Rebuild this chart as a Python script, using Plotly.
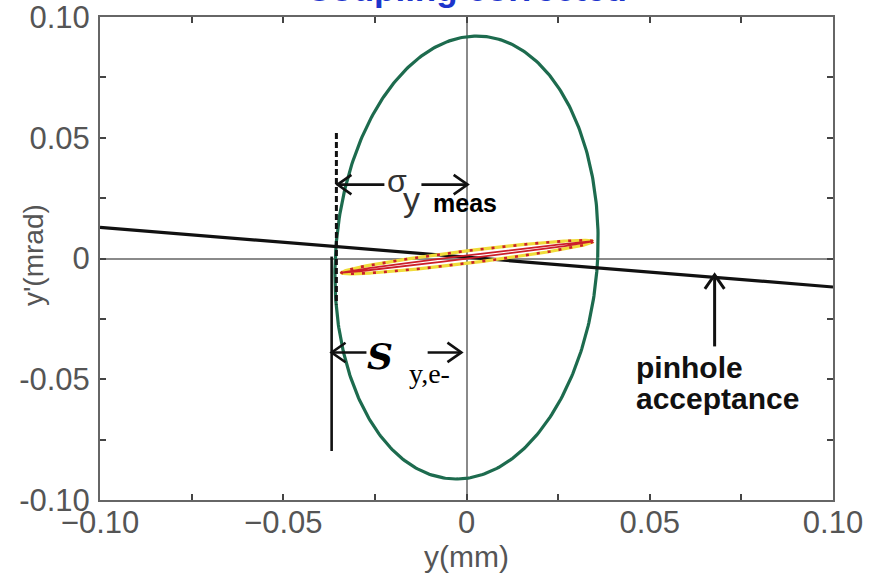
import numpy as np
import plotly.graph_objects as go

# ---- axis ticks -------------------------------------------------------------
x_tick_vals = [-0.10, -0.05, 0.0, 0.05, 0.10]
x_tick_text = ["\u22120.10", "\u22120.05", "0", "0.05", "0.10"]
y_tick_vals = [-0.10, -0.05, 0.0, 0.05, 0.10]
y_tick_text = ["-0.10", "-0.05", "0", "0.05", "0.10"]

# ---- phase-space ellipse (y, y') ------------------------------------------
ellipse_half_y = 0.0358      # mm
ellipse_half_yp = 0.0917     # mrad
ellipse_shear = 0.0028       # small tilt of the ellipse
ellipse_center = (0.0, 0.0004)

# ---- coupled beam ellipse (thin, tilted) ------------------------------------
beam_tip = (0.0343, 0.00645)          # tip relative to centre
beam_center = (0.0002, 0.0006)
beam_outer_width = 0.0026
beam_inner_width = 0.0007

# ---- pinhole acceptance line ------------------------------------------------
pinhole_y = [-0.10, 0.10]
pinhole_yp = [0.0129, -0.0118]

# ---- measured / electron beam size markers ----------------------------------
sigma_meas_x = -0.0355
sigma_meas_yp = [0.052, -0.019]
s_e_x = -0.0368
s_e_yp = [0.0008, -0.0797]

# arrow segments (left piece, right piece) around their labels
sigma_arrow_yp = 0.0306
sigma_arrow_segments = [(-0.0352, -0.0224), (-0.0123, 0.0003)]
s_arrow_yp = -0.0389
s_arrow_segments = [(-0.0368, -0.0273), (-0.0106, -0.0014)]

pinhole_arrow_x = 0.0677
pinhole_arrow_yp = (-0.0364, -0.0068)

# figure geometry (used to keep arrowheads visually isotropic)
W, H = 882, 581
M = dict(l=100, r=49, t=17, b=81)
X_RANGE = [-0.1, 0.1]
Y_RANGE = [-0.1, 0.1]
PLOT_W = W - M["l"] - M["r"]
PLOT_H = H - M["t"] - M["b"]
px_x = PLOT_W / (X_RANGE[1] - X_RANGE[0])
px_y = PLOT_H / (Y_RANGE[1] - Y_RANGE[0])


def arrow_head(tip, direction, length=17, half_angle=np.radians(35)):
    """Open V arrowhead at `tip`; `direction` points the arrow (px space, y up)."""
    d = np.array(direction, float)
    d /= np.linalg.norm(d)
    c, sn = np.cos(half_angle), np.sin(half_angle)
    w1 = -np.array([c * d[0] - sn * d[1], sn * d[0] + c * d[1]]) * length
    w2 = -np.array([c * d[0] + sn * d[1], -sn * d[0] + c * d[1]]) * length
    return ([tip[0] + w1[0] / px_x, tip[0], tip[0] + w2[0] / px_x],
            [tip[1] + w1[1] / px_y, tip[1], tip[1] + w2[1] / px_y])


fig = go.Figure()
INK = "#111111"
AXIS_GREY = "#555555"

# green phase-space ellipse
t = np.linspace(0, 2 * np.pi, 400)
ex = ellipse_center[0] + ellipse_half_y * np.cos(t) + ellipse_shear * np.sin(t)
ey = ellipse_center[1] + ellipse_half_yp * np.sin(t)
fig.add_trace(go.Scatter(x=ex, y=ey, mode="lines",
                         line=dict(color="#1d6b4e", width=3.2), hoverinfo="skip"))

# pinhole acceptance line
fig.add_trace(go.Scatter(x=pinhole_y, y=pinhole_yp, mode="lines",
                         line=dict(color=INK, width=3.2), hoverinfo="skip"))

# beam ellipse: yellow band with red dots, plus thin red inner ellipse
bx = beam_center[0] + beam_tip[0] * np.cos(t)
by_out = beam_center[1] + beam_tip[1] * np.cos(t) + beam_outer_width * np.sin(t)
by_in = beam_center[1] + beam_tip[1] * np.cos(t) + beam_inner_width * np.sin(t)
fig.add_trace(go.Scatter(x=bx, y=by_out, mode="lines",
                         line=dict(color="#f0dc3a", width=3.2), hoverinfo="skip"))
fig.add_trace(go.Scatter(x=bx, y=by_out, mode="lines",
                         line=dict(color="#c8202a", width=2.6, dash="3px,8px"), hoverinfo="skip"))
fig.add_trace(go.Scatter(x=bx, y=by_in, mode="lines",
                         line=dict(color="#cc1f2a", width=1.8), hoverinfo="skip"))

# dashed line: measured size
fig.add_trace(go.Scatter(x=[sigma_meas_x, sigma_meas_x], y=sigma_meas_yp, mode="lines",
                         line=dict(color=INK, width=3, dash="6px,3px"), hoverinfo="skip"))
# solid line: electron beam size
fig.add_trace(go.Scatter(x=[s_e_x, s_e_x], y=s_e_yp, mode="lines",
                         line=dict(color=INK, width=2.6), hoverinfo="skip"))


def double_arrow(yv, segs, width=2.6):
    (a0, a1), (b0, b1) = segs
    fig.add_trace(go.Scatter(x=[a0, a1, None, b0, b1], y=[yv, yv, None, yv, yv], mode="lines",
                             line=dict(color=INK, width=width), hoverinfo="skip"))
    for tip, d in (((a0, yv), (-1, 0)), ((b1, yv), (1, 0))):
        hx, hy = arrow_head(tip, d)
        fig.add_trace(go.Scatter(x=hx, y=hy, mode="lines",
                                 line=dict(color=INK, width=width), hoverinfo="skip"))


double_arrow(sigma_arrow_yp, sigma_arrow_segments)
double_arrow(s_arrow_yp, s_arrow_segments)

# pinhole arrow
fig.add_trace(go.Scatter(x=[pinhole_arrow_x] * 2, y=list(pinhole_arrow_yp), mode="lines",
                         line=dict(color=INK, width=3), hoverinfo="skip"))
hx, hy = arrow_head((pinhole_arrow_x, pinhole_arrow_yp[1]), (0, 1))
fig.add_trace(go.Scatter(x=hx, y=hy, mode="lines",
                         line=dict(color=INK, width=3), hoverinfo="skip"))


def yp_at(px_row):
    """Convert a pixel row of the figure to y'."""
    y0_row = M["t"] + (Y_RANGE[1] - 0) * px_y
    return (y0_row - px_row) / px_y


def paper_x(px_col):
    return (px_col - M["l"]) / PLOT_W


def paper_y(px_row):
    return (H - M["b"] - px_row) / PLOT_H


annotations = [
    dict(text="<b>Coupling corrected</b>", xref="paper", yref="paper", x=0.5, y=1,
         xanchor="center", yanchor="bottom", yshift=7, showarrow=False,
         font=dict(family="Liberation Sans, Arial", size=35, color="#1c34cc")),
    dict(text="y'(mrad)", xref="paper", yref="paper", x=paper_x(34), y=paper_y(255),
         xanchor="center", yanchor="middle", textangle=-90, showarrow=False,
         font=dict(family="Liberation Sans, Arial", size=28, color=AXIS_GREY)),
    dict(text="\u03c3", x=-0.0190, y=yp_at(181), xanchor="center", yanchor="middle",
         showarrow=False, font=dict(family="Liberation Sans, Arial", size=32, color="#333333")),
    dict(text="y", x=-0.0150, y=yp_at(199), xanchor="center", yanchor="middle",
         showarrow=False, font=dict(family="Liberation Sans, Arial", size=34, color="#333333")),
    dict(text="<b>meas</b>", x=-0.0005, y=yp_at(203), xanchor="center", yanchor="middle",
         showarrow=False, font=dict(family="Liberation Sans, Arial", size=25, color="#000000")),
    dict(text="<b><i>S</i></b>", x=-0.0235, y=yp_at(356), xanchor="center", yanchor="middle",
         showarrow=False, font=dict(family="DejaVu Serif", size=36, color="#000000")),
    dict(text="y,e-", x=-0.0100, y=yp_at(373), xanchor="center", yanchor="middle",
         showarrow=False, font=dict(family="Liberation Serif, Times New Roman", size=28, color="#000000")),
    dict(text="<b>pinhole</b>", x=0.0458, y=yp_at(367), xanchor="left", yanchor="middle",
         showarrow=False, font=dict(family="Liberation Sans, Arial", size=30, color=INK)),
    dict(text="<b>acceptance</b>", x=0.0458, y=yp_at(398), xanchor="left", yanchor="middle",
         showarrow=False, font=dict(family="Liberation Sans, Arial", size=30, color=INK)),
]

axis_common = dict(
    automargin=False, ticklabeloverflow="allow",
    showline=True, linecolor="#666666", linewidth=2, mirror="ticks",
    ticks="inside", ticklen=6, tickwidth=2, tickcolor="#444444",
    showgrid=False, zeroline=True, zerolinecolor="#8a8a8a", zerolinewidth=1.5,
    tickfont=dict(family="Liberation Sans, Arial", size=31, color=AXIS_GREY),
    minor=dict(ticks="inside", dtick=0.025, ticklen=6, tickwidth=2, tickcolor="#444444", showgrid=False),
)

fig.update_layout(
    width=W, height=H, margin=M,
    paper_bgcolor="white", plot_bgcolor="white", showlegend=False,
    xaxis=dict(range=X_RANGE, tickvals=x_tick_vals, ticktext=x_tick_text,
               ticklabelstandoff=-6,
               title=dict(text="y(mm)", standoff=0,
                          font=dict(family="Liberation Sans, Arial", size=30, color=AXIS_GREY)),
               **axis_common),
    yaxis=dict(range=Y_RANGE, tickvals=y_tick_vals, ticktext=y_tick_text,
               ticklabelstandoff=2,
               **axis_common),
    annotations=annotations,
)

fig.write_html("out.html")
